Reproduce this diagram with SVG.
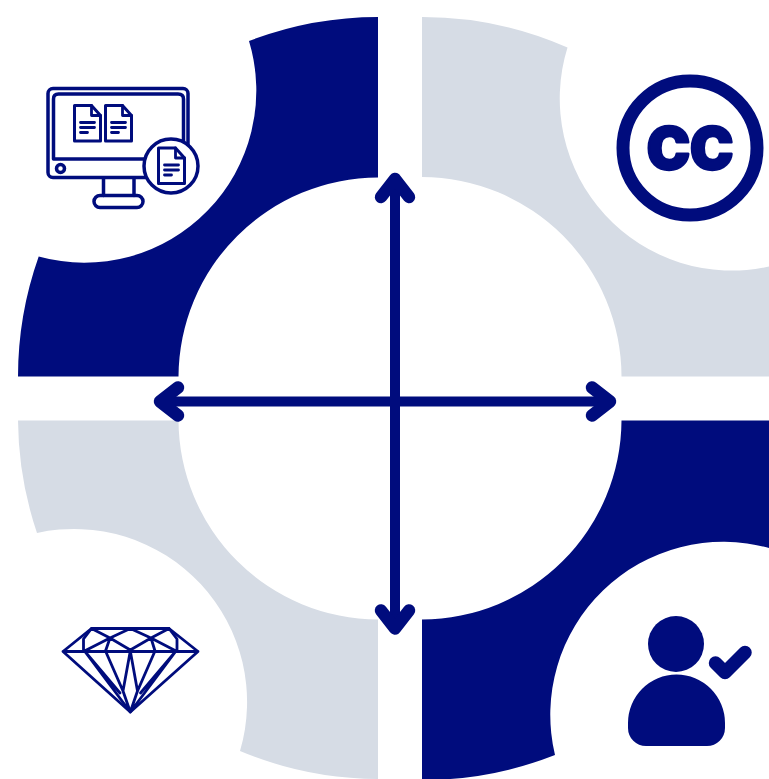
<svg xmlns="http://www.w3.org/2000/svg" width="769" height="779" viewBox="0 0 769 779">
<style>
.navy{fill:#000c7d}
.grey{fill:#d6dce5}
.ln{fill:none;stroke:#000c7d;stroke-linecap:round;stroke-linejoin:round}
.m{stroke-width:3.5}
.d{stroke-width:2.8}
.doc{fill:#fff;stroke:#000c7d;stroke-width:3;stroke-linejoin:round}
.shaft{fill:none;stroke:#000c7d;stroke-width:10}
.arrow{fill:none;stroke:#000c7d;stroke-width:12.500;stroke-linecap:round;stroke-linejoin:round}
</style>
<defs>
<g id="doc">
<path class="doc" d="M0 0H17L26 10V35.500H0Z"/>
<path class="ln" style="stroke-width:2.800" d="M17 0V10H26M6 17H20M6 22H20M6 27H13"/>
</g>
</defs>
<g id="quadrants">
<path id="q-tl" class="navy" d="M18 376.500A360 360 0 0 1 38.700 256.500A172 172 0 0 0 249 41A360 360 0 0 1 378 17V177.500A200 200 0 0 0 178.500 376.500Z"/>
<path id="q-tr" class="grey" d="M422 17A360 360 0 0 1 567.500 47.500A172 172 0 0 0 769 266.500V376.500H621.500A200 200 0 0 0 422 177Z"/>
<path id="q-bl" class="grey" d="M18 420.500H178.500A200 200 0 0 0 378 619.500V779A360 360 0 0 1 240 751A173 173 0 0 0 37 533A360 360 0 0 1 18 420.500Z"/>
<path id="q-br" class="navy" d="M621.500 420.500H769V548A173 173 0 0 0 555 755A360 360 0 0 1 422 780V619.500A200 200 0 0 0 621.500 420.500Z"/>
</g>
<g id="connectors">
<path class="shaft" d="M395 179V628M160 401.500H610"/>
<path class="arrow" d="M381 197L395 179L409 197"/>
<path class="arrow" d="M381 610.500L395 628.500L409 610.500"/>
<path class="arrow" d="M178 387.500L160 401.500L178 415.500"/>
<path class="arrow" d="M592 387.500L610 401.500L592 415.500"/>
</g>
<g id="node-monitor">
<rect class="ln m" x="48" y="88.500" width="140" height="89" rx="5"/>
<path class="ln m" d="M53.500 159V99Q53.500 94 58.500 94H178Q183.500 94 183.500 99V145M53.500 159H150"/>
<circle class="ln m" cx="60.500" cy="168.500" r="4"/>
<path class="ln m" d="M103.500 178V195.500M134 178V195.500"/>
<rect class="ln m" x="94" y="195.500" width="49" height="12" rx="6"/>
<use href="#doc" x="74.500" y="105.500"/>
<use href="#doc" x="105.500" y="105.500"/>
<circle cx="171" cy="166" r="27" fill="#fff" stroke="#000c7d" stroke-width="3.500"/>
<use href="#doc" x="158.500" y="148"/>
</g>
<g id="node-cc">
<circle cx="690" cy="148" r="67" fill="#fff" stroke="#000c7d" stroke-width="13"/>
<text x="690" y="169" text-anchor="middle" font-family="Inter,'DejaVu Sans',sans-serif" font-weight="900" font-size="58" fill="#000c7d" stroke="#000c7d" stroke-width="2.500" stroke-linejoin="round">CC</text>
</g>
<g id="node-diamond">
<path class="ln d" d="M91.500 628.500H169L198 651.500L130.300 712L63 651.500ZM63 651.500H198"/>
<path class="ln d" d="M91.500 628.500L83.500 639V651M169 628.500L177 639V651M91.500 628.500L110 638L130.300 628.500L151 638L169 628.500M84.500 651L110 638L130.300 650L151 638L176 651M110 638L105.500 651M151 638L155 651"/>
<path class="ln d" d="M84.500 651L130.300 712M176 651L130.300 712M84.500 651L120 693M176 651L140.500 693M105.500 651L123 691M155 651L137.500 691M130.300 651L123 691L130.300 712M130.300 651L137.500 691L130.300 712"/>
</g>
<g id="node-person">
<circle class="navy" cx="676" cy="644" r="28"/>
<path class="navy" d="M628 723A48.500 48.500 0 0 1 725 723V728A18 18 0 0 1 707 746H646A18 18 0 0 1 628 728Z"/>
<path class="ln" style="stroke-width:13.500" d="M715.500 663L725 672.500L745 652.500"/>
</g>
</svg>
